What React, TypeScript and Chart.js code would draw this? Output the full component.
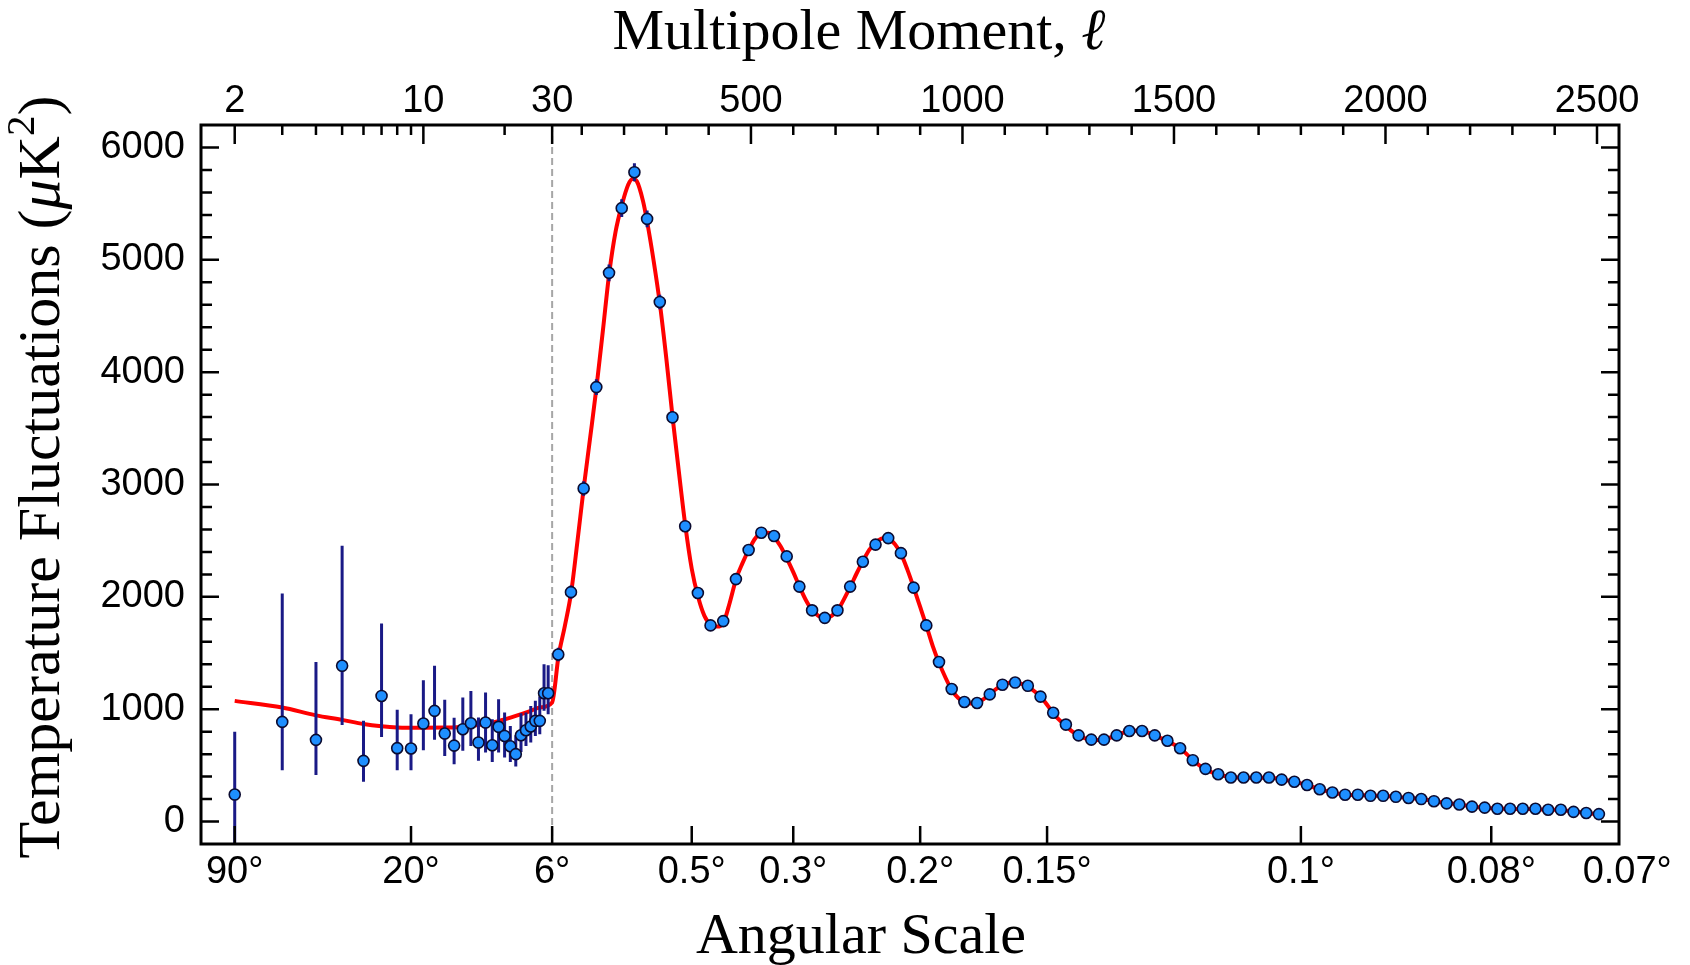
import React, { useEffect, useRef } from 'react';
import { Chart, registerables, LinearScale } from 'chart.js';

// ---------------- data ----------------
// Low-ℓ (unbinned) points with asymmetric error bars
const LOW_ELL = [2, 3, 4, 5, 6, 7, 8, 9, 10, 11, 12, 13, 14, 15, 16, 17, 18, 19, 20, 21, 22, 23, 24, 25, 26, 27, 28, 29];
const LOW_DL = [240, 887, 727, 1386, 540, 1118, 653, 650, 872, 985, 783, 676, 822, 875, 703, 881, 679, 843, 762, 670, 600, 768, 813, 846, 896, 896, 1142, 1142];
const LOW_HI = [800, 2030, 1421, 2454, 896, 1763, 994, 955, 1258, 1386, 1083, 923, 1104, 1163, 926, 1149, 911, 1089, 971, 851, 768, 964, 971, 1029, 1074, 1113, 1401, 1392];
const LOW_LO = [-300, 457, 415, 860, 353, 753, 457, 457, 635, 727, 584, 510, 629, 673, 540, 614, 531, 614, 570, 531, 490, 620, 673, 703, 762, 777, 985, 955];

// High-ℓ binned points
const BIN_ELL = [44.5, 74.5, 104.5, 134.5, 164.5, 194.5, 224.5, 254.5, 284.5, 314.5, 344.5, 374.5, 404.5, 434.5, 464.5, 494.5, 524.5, 554.5, 584.5, 614.5, 644.5, 674.5, 704.5, 734.5, 764.5, 794.5, 824.5, 854.5, 884.5, 914.5, 944.5, 974.5, 1004.5, 1034.5, 1064.5, 1094.5, 1124.5, 1154.5, 1184.5, 1214.5, 1244.5, 1274.5, 1304.5, 1334.5, 1364.5, 1394.5, 1424.5, 1454.5, 1484.5, 1514.5, 1544.5, 1574.5, 1604.5, 1634.5, 1664.5, 1694.5, 1724.5, 1754.5, 1784.5, 1814.5, 1844.5, 1874.5, 1904.5, 1934.5, 1964.5, 1994.5, 2024.5, 2054.5, 2084.5, 2114.5, 2144.5, 2174.5, 2204.5, 2234.5, 2264.5, 2294.5, 2324.5, 2354.5, 2384.5, 2414.5, 2444.5, 2474.5, 2504.5];
const BIN_DL = [1487, 2042, 2965, 3867, 4884, 5460, 5780, 5364, 4625, 3598, 2629, 2034, 1746, 1784, 2158, 2417, 2571, 2542, 2360, 2091, 1880, 1813, 1880, 2091, 2312, 2465, 2523, 2389, 2082, 1746, 1420, 1180, 1064, 1055, 1132, 1218, 1237, 1208, 1112, 968, 863, 767, 729, 729, 767, 806, 806, 767, 719, 652, 546, 469, 421, 392, 392, 392, 392, 373, 354, 325, 287, 258, 239, 239, 229, 229, 220, 210, 200, 181, 162, 152, 133, 124, 114, 114, 114, 114, 105, 105, 86, 76, 66];
const BIN_ERR = [60, 60, 65, 70, 75, 80, 80, 75, 65, 55, 45, 40, 35, 35, 35, 35, 35, 35, 35, 30, 30, 30, 30, 30, 30, 30, 30, 30, 30, 28, 26, 24, 22, 22, 22, 22, 22, 22, 20, 20, 18, 18, 18, 18, 18, 18, 18, 18, 18, 16, 16, 16, 16, 16, 16, 16, 16, 16, 16, 16, 16, 16, 16, 16, 16, 16, 16, 16, 16, 16, 16, 16, 16, 16, 16, 16, 16, 16, 16, 16, 16, 16, 16];

// Best-fit model curve
const CURVE_ELL = [2, 3, 4, 5, 6, 7, 8, 10, 12, 14, 16, 18, 20, 22, 25, 27, 30, 45, 60, 75, 90, 105, 120, 135, 150, 165, 180, 195, 210, 220, 230, 245, 255, 270, 285, 300, 315, 330, 345, 360, 375, 390, 405, 420, 435, 450, 465, 480, 495, 510, 525, 540, 555, 570, 585, 600, 615, 630, 645, 660, 675, 690, 705, 720, 735, 750, 765, 780, 795, 810, 825, 840, 855, 870, 885, 900, 915, 930, 945, 960, 975, 990, 1005, 1020, 1035, 1050, 1065, 1080, 1095, 1110, 1125, 1140, 1155, 1170, 1185, 1200, 1215, 1230, 1245, 1260, 1275, 1290, 1305, 1320, 1335, 1350, 1365, 1380, 1395, 1410, 1425, 1440, 1455, 1470, 1485, 1500, 1515, 1530, 1545, 1560, 1575, 1590, 1605, 1620, 1650, 1680, 1710, 1740, 1770, 1800, 1830, 1860, 1890, 1920, 1950, 1980, 2010, 2040, 2070, 2100, 2130, 2160, 2190, 2220, 2250, 2280, 2310, 2340, 2370, 2400, 2430, 2460, 2490, 2510];
const CURVE_DL = [1074, 1015, 945, 905, 868, 848, 838, 835, 836, 845, 858, 880, 910, 940, 985, 1015, 1060, 1470, 1740, 2040, 2500, 2980, 3420, 3870, 4370, 4880, 5250, 5490, 5670, 5720, 5700, 5520, 5330, 4990, 4600, 4120, 3590, 3100, 2630, 2250, 2000, 1830, 1750, 1735, 1770, 1950, 2160, 2300, 2420, 2520, 2570, 2570, 2530, 2450, 2340, 2220, 2090, 1970, 1880, 1830, 1810, 1830, 1880, 1980, 2090, 2210, 2320, 2420, 2480, 2520, 2515, 2470, 2380, 2240, 2080, 1910, 1740, 1560, 1410, 1280, 1170, 1100, 1065, 1050, 1060, 1090, 1135, 1180, 1215, 1235, 1237, 1225, 1200, 1160, 1110, 1040, 960, 900, 850, 800, 765, 740, 728, 725, 730, 748, 768, 790, 803, 808, 805, 790, 768, 740, 715, 685, 650, 600, 545, 500, 465, 438, 420, 405, 392, 390, 390, 385, 365, 340, 305, 272, 248, 237, 233, 229, 224, 215, 205, 192, 172, 158, 142, 128, 118, 113, 112, 111, 108, 104, 95, 82, 70, 63];

// Axis ticks
const TOP_MAJOR = [2, 10, 30, 500, 1000, 1500, 2000, 2500];
const TOP_LABELS = ['2', '10', '30', '500', '1000', '1500', '2000', '2500'];
const TOP_MINOR = [3, 4, 5, 6, 7, 8, 9, 20, 100, 200, 300, 400, 600, 700, 800, 900, 1100, 1200, 1300, 1400, 1600, 1700, 1800, 1900, 2100, 2200, 2300, 2400];
const ANGLE_DEG = [90, 20, 6, 0.5, 0.3, 0.2, 0.15, 0.1, 0.08, 0.07];
const ANGLE_LABELS = ['90°', '20°', '6°', '0.5°', '0.3°', '0.2°', '0.15°', '0.1°', '0.08°', '0.07°'];
const Y_MAJOR = [0, 1000, 2000, 3000, 4000, 5000, 6000];
const Y_MINOR = [200, 400, 600, 800, 1200, 1400, 1600, 1800, 2200, 2400, 2600, 2800, 3200, 3400, 3600, 3800, 4200, 4400, 4600, 4800, 5200, 5400, 5600, 5800];

// ---------------- hybrid log/linear ℓ scale ----------------
const SPLIT = 30;
const DECADE = 638; // linear-ℓ units per decade on the log part
const fwd = (l: number) => (l <= SPLIT ? DECADE * Math.log10(l / SPLIT) : l - SPLIT);
const inv = (u: number) => (u <= 0 ? SPLIT * Math.pow(10, u / DECADE) : u + SPLIT);

class HybridScale extends (LinearScale as any) {
  static id = 'hybrid';
  static defaults = {};
  determineDataLimits() {
    const o: any = this.options;
    this.min = fwd(o.lmin);
    this.max = fwd(o.lmax);
  }
  buildTicks() {
    const o: any = this.options;
    return (o.ellTicks as number[]).map((v) => ({ value: v }));
  }
  getPixelForValue(value: number) {
    if (value === null || value === undefined) return NaN;
    return this.getPixelForDecimal((fwd(value) - this.min) / (this.max - this.min));
  }
  getValueForPixel(pixel: number) {
    return inv(this.min + this.getDecimalForPixel(pixel) * (this.max - this.min));
  }
}

Chart.register(...registerables, HybridScale as any);

const SANS = '"Liberation Sans", Arial, Helvetica, sans-serif';
const SERIF = '"Liberation Serif", "Times New Roman", serif';
const TICK_FONT = { family: SANS, size: 38 };

type Part = { t: string; font: string; dy?: number };
function drawRich(ctx: CanvasRenderingContext2D, parts: Part[], cx: number, y: number) {
  let total = 0;
  const widths = parts.map((p) => {
    ctx.font = p.font;
    const w = ctx.measureText(p.t).width;
    total += w;
    return w;
  });
  let x = cx - total / 2;
  ctx.textAlign = 'left';
  ctx.textBaseline = 'alphabetic';
  parts.forEach((p, i) => {
    ctx.font = p.font;
    ctx.fillText(p.t, x, y + (p.dy || 0));
    x += widths[i];
  });
}

const decorPlugin = {
  id: 'decor',
  beforeDatasetsDraw(chart: any) {
    const { ctx, chartArea } = chart;
    const x = chart.scales.x.getPixelForValue(30);
    ctx.save();
    ctx.strokeStyle = '#a6a6a6';
    ctx.lineWidth = 2;
    ctx.setLineDash([7, 4]);
    ctx.beginPath();
    ctx.moveTo(x, chartArea.top);
    ctx.lineTo(x, chartArea.bottom);
    ctx.stroke();
    ctx.restore();
  },
  afterDatasetDraw(chart: any, args: any) {
    if (args.index !== 2) return;
    const { ctx, chartArea } = chart;
    const xs = chart.scales.x;
    const ys = chart.scales.y;
    ctx.save();
    ctx.beginPath();
    ctx.rect(chartArea.left, chartArea.top, chartArea.right - chartArea.left, chartArea.bottom - chartArea.top);
    ctx.clip();
    ctx.strokeStyle = '#1a1a86';
    ctx.lineWidth = 3;
    ctx.beginPath();
    LOW_ELL.forEach((l, i) => {
      const x = xs.getPixelForValue(l);
      ctx.moveTo(x, ys.getPixelForValue(LOW_LO[i]));
      ctx.lineTo(x, ys.getPixelForValue(LOW_HI[i]));
    });
    BIN_ELL.forEach((l, i) => {
      const x = xs.getPixelForValue(l);
      ctx.moveTo(x, ys.getPixelForValue(BIN_DL[i] - BIN_ERR[i]));
      ctx.lineTo(x, ys.getPixelForValue(BIN_DL[i] + BIN_ERR[i]));
    });
    ctx.stroke();
    ctx.restore();
  },
  afterDraw(chart: any) {
    const { ctx, chartArea } = chart;
    const { left, right, top, bottom } = chartArea;
    const xs = chart.scales.x;
    const ys = chart.scales.y;
    ctx.save();
    ctx.strokeStyle = '#000';
    ctx.lineWidth = 2.5;
    ctx.beginPath();
    TOP_MAJOR.forEach((l) => {
      const x = xs.getPixelForValue(l);
      ctx.moveTo(x, top);
      ctx.lineTo(x, top + 19);
    });
    TOP_MINOR.forEach((l) => {
      const x = xs.getPixelForValue(l);
      ctx.moveTo(x, top);
      ctx.lineTo(x, top + 10);
    });
    ANGLE_DEG.forEach((d) => {
      const x = xs.getPixelForValue(180 / d);
      if (x < left || x > right) return;
      ctx.moveTo(x, bottom);
      ctx.lineTo(x, bottom - 18);
    });
    Y_MAJOR.forEach((v) => {
      const y = ys.getPixelForValue(v);
      ctx.moveTo(left, y);
      ctx.lineTo(left + 18, y);
      ctx.moveTo(right, y);
      ctx.lineTo(right - 18, y);
    });
    Y_MINOR.forEach((v) => {
      const y = ys.getPixelForValue(v);
      ctx.moveTo(left, y);
      ctx.lineTo(left + 11, y);
      ctx.moveTo(right, y);
      ctx.lineTo(right - 11, y);
    });
    ctx.stroke();
    ctx.lineWidth = 3;
    ctx.strokeRect(left, top, right - left, bottom - top);

    // titles
    ctx.fillStyle = '#000';
    const F = `58px ${SERIF}`;
    const FI = `italic 58px ${SERIF}`;
    drawRich(ctx, [{ t: 'Multipole Moment, ', font: F }, { t: 'ℓ', font: FI }], 859, 49);
    drawRich(ctx, [{ t: 'Angular Scale', font: F }], 861, 953);
    const FY = `60px ${SERIF}`;
    const FYI = `italic 60px ${SERIF}`;
    ctx.translate(59, 477);
    ctx.rotate(-Math.PI / 2);
    drawRich(
      ctx,
      [
        { t: 'Temperature Fluctuations (', font: FY },
        { t: 'μ', font: FYI },
        { t: 'K', font: FY },
        { t: '2', font: `41px ${SERIF}`, dy: -25 },
        { t: ')', font: FY },
      ],
      0,
      0
    );
    ctx.restore();
  },
};

const pointStyle = {
  showLine: false,
  pointRadius: 5.5,
  pointBackgroundColor: '#1e8fff',
  pointBorderColor: '#0b0b30',
  pointBorderWidth: 1.6,
};

export default function App() {
  const ref = useRef<HTMLCanvasElement>(null);
  useEffect(() => {
    document.body.style.margin = '0';
    const chart = new Chart(ref.current as HTMLCanvasElement, {
      type: 'scatter',
      data: {
        datasets: [
          { label: 'low-ℓ', data: LOW_ELL.map((l, i) => ({ x: l, y: LOW_DL[i] })), ...pointStyle },
          { label: 'binned', data: BIN_ELL.map((l, i) => ({ x: l, y: BIN_DL[i] })), ...pointStyle },
          {
            label: 'model',
            data: CURVE_ELL.map((l, i) => ({ x: l, y: CURVE_DL[i] })),
            showLine: true,
            pointRadius: 0,
            borderColor: '#ff0000',
            borderWidth: 4,
            cubicInterpolationMode: 'monotone',
          } as any,
        ],
      },
      options: {
        animation: false,
        responsive: true,
        maintainAspectRatio: false,
        layout: { padding: { left: 0, right: 71, top: 0, bottom: 0 } },
        plugins: { legend: { display: false }, tooltip: { enabled: false } },
        scales: {
          x: {
            type: 'hybrid' as any,
            axis: 'x',
            position: 'bottom',
            lmin: 1.5,
            lmax: 2552,
            ellTicks: ANGLE_DEG.map((d) => 180 / d),
            grid: { display: false, drawTicks: false },
            border: { display: false },
            ticks: {
              autoSkip: false,
              maxRotation: 0,
              minRotation: 0,
              padding: 6,
              color: '#000',
              font: TICK_FONT,
              callback: (_v: any, i: number) => ANGLE_LABELS[i],
            },
            afterFit: (s: any) => {
              s.height = 121;
            },
          } as any,
          xTop: {
            type: 'hybrid' as any,
            axis: 'x',
            position: 'top',
            lmin: 1.5,
            lmax: 2552,
            ellTicks: TOP_MAJOR,
            grid: { display: false, drawTicks: false },
            border: { display: false },
            ticks: {
              autoSkip: false,
              maxRotation: 0,
              minRotation: 0,
              padding: 1,
              color: '#000',
              font: TICK_FONT,
              callback: (_v: any, i: number) => TOP_LABELS[i],
            },
            afterFit: (s: any) => {
              s.height = 125;
            },
          } as any,
          y: {
            type: 'linear',
            position: 'left',
            min: -200,
            max: 6200,
            grid: { display: false, drawTicks: false },
            border: { display: false },
            afterBuildTicks: (s: any) => {
              s.ticks = Y_MAJOR.map((v) => ({ value: v }));
            },
            ticks: {
              padding: 16,
              color: '#000',
              font: TICK_FONT,
              callback: (v: any) => String(v),
            },
            afterFit: (s: any) => {
              s.width = 201;
            },
          },
        },
      },
      plugins: [decorPlugin],
    } as any);
    return () => chart.destroy();
  }, []);
  return (
    <div style={{ width: 1690, height: 965, position: 'relative', background: '#fff' }}>
      <canvas ref={ref} />
    </div>
  );
}
